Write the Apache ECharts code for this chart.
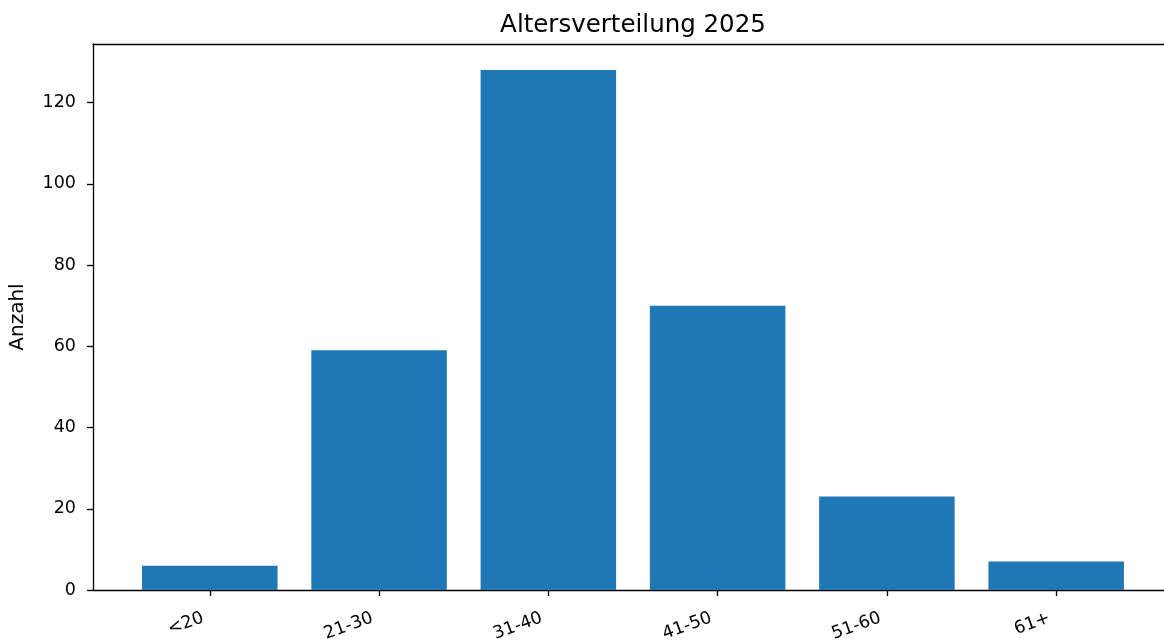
<!DOCTYPE html>
<html>
<head>
<meta charset="utf-8">
<script src="https://cdn.jsdelivr.net/npm/echarts@6/dist/echarts.min.js"></script>
<style>
html,body{margin:0;padding:0;background:#fff;}
#chart{width:1164px;height:641px;}
</style>
</head>
<body>
<div id="chart"></div>
<script>
const categories = ['<20', '21-30', '31-40', '41-50', '51-60', '61+'];
const values = [6, 59, 128, 70, 23, 7];
const yTicks = [0, 20, 40, 60, 80, 100, 120];
const titleText = 'Altersverteilung 2025';
const yName = 'Anzahl';

const FONT = 'DejaVu Sans';
const chart = echarts.init(document.getElementById('chart'), null, {renderer: 'canvas'});
const idx = categories.map((c, i) => i);
const xMin = -0.69, xMax = 5.637;
const yMax = Math.max(...values) * 1.05;

chart.setOption({
  animation: false,
  backgroundColor: '#ffffff',
  title: {
    text: titleText,
    left: 628, top: 8,
    textAlign: 'center',
    textStyle: {fontFamily: FONT, fontSize: 24.5, fontWeight: 'normal', color: '#000'}
  },
  grid: {left: 93, right: 0, top: 44, bottom: 51, containLabel: false, outerBoundsMode: 'none'},
  xAxis: [{
    type: 'value', min: xMin, max: xMax,
    splitLine: {show: false},
    axisLine: {show: true, onZero: false, lineStyle: {color: '#000', width: 1.3}},
    axisTick: {show: true, length: 6, lineStyle: {color: '#000', width: 1.3}, customValues: idx},
    axisLabel: {
      customValues: idx, rotate: 20, margin: 25, padding: [0, 7, 0, 0],
      fontFamily: FONT, fontSize: 17.5, color: '#000',
      formatter: v => categories[Math.round(v)]
    }
  }, {
    type: 'value', position: 'top', min: xMin, max: xMax,
    splitLine: {show: false},
    axisLine: {show: true, onZero: false, lineStyle: {color: '#000', width: 1.3}},
    axisTick: {show: false}, axisLabel: {show: false}
  }],
  yAxis: {
    type: 'value', min: 0, max: yMax,
    name: yName, nameLocation: 'middle', nameGap: 65,
    nameTextStyle: {fontFamily: FONT, fontSize: 20, color: '#000'},
    splitLine: {show: false},
    axisLine: {show: true, onZero: false, lineStyle: {color: '#000', width: 1.3}},
    axisTick: {show: true, length: 6, lineStyle: {color: '#000', width: 1.3}, customValues: yTicks},
    axisLabel: {customValues: yTicks, margin: 17, fontFamily: FONT, fontSize: 17.5, color: '#000'}
  },
  series: [{
    type: 'bar',
    xAxisIndex: 0,
    data: values.map((v, i) => [i, v]),
    barWidth: 135.5,
    itemStyle: {color: '#1f77b4'}
  }]
});
</script>
</body>
</html>
